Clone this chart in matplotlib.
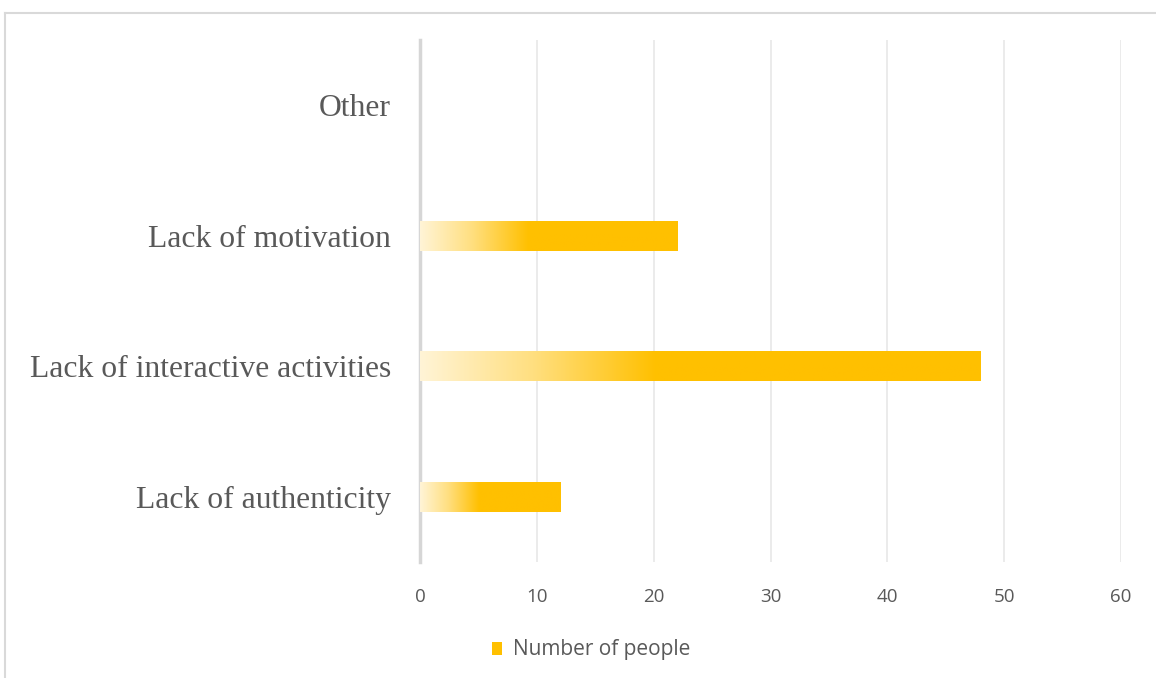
import numpy as np
import matplotlib.pyplot as plt
from matplotlib.colors import LinearSegmentedColormap
from matplotlib.patches import Rectangle

categories = ['Lack of authenticity', 'Lack of interactive activities',
              'Lack of motivation', 'Other']
values = [12, 48, 22, 0]
series_name = 'Number of people'
xticks = [0, 10, 20, 30, 40, 50, 60]

gold = '#FFC000'
cmap = LinearSegmentedColormap.from_list(
    'gold', [(0, '#FFF4D6'), (0.2, '#FFDF80'), (0.42, gold), (1, gold)])
grad = np.linspace(0, 1, 256).reshape(1, -1)

fig = plt.figure(figsize=(11.56, 6.78), dpi=100)
ax = fig.add_axes([420 / 1156, 1 - 562 / 678, 701 / 1156, 522 / 678])

y = np.arange(len(categories))
bars = ax.barh(y, values, height=0.23, color='none', edgecolor='none')
for b in bars:
    x0, y0 = b.get_x(), b.get_y()
    w, h = b.get_width(), b.get_height()
    if w <= 0:
        continue
    im = ax.imshow(grad, cmap=cmap, aspect='auto', extent=[x0, x0 + w, y0, y0 + h],
                   interpolation='bilinear', zorder=3)
    im.set_clip_path(b)

ax.set_xlim(0, 60)
ax.set_ylim(-0.5, len(categories) - 0.5)
ax.set_xticks(xticks)
ax.set_yticks(y)
ax.set_yticklabels(categories, fontfamily='Liberation Serif', fontsize=22.8, color='#595959')
ax.tick_params(axis='x', length=0, labelsize=13.5, labelcolor='#595959', pad=19)
ax.tick_params(axis='y', length=0, pad=21)
for lab in ax.get_xticklabels():
    lab.set_fontfamily('Open Sans')
ax.grid(axis='x', color='#E8E8E8', lw=1.2, zorder=0)
ax.set_axisbelow(True)
for s in ['top', 'right', 'bottom']:
    ax.spines[s].set_visible(False)
ax.spines['left'].set_color('#D6D6D6')
ax.spines['left'].set_linewidth(2.5)

leg_handle = Rectangle((0, 0), 1, 1, facecolor=gold, edgecolor='none')
leg = fig.legend([leg_handle], [series_name], loc='center', bbox_to_anchor=(591 / 1156, 1 - 650 / 678),
                 frameon=False, handlelength=0.5, handleheight=0.6, handletextpad=0.5,
                 prop={'family': 'Open Sans', 'size': 15})
for t in leg.get_texts():
    t.set_color('#595959')

# outer chart border
fig.add_artist(plt.Line2D([5 / 1156, 1], [1 - 13 / 678, 1 - 13 / 678], color='#D9D9D9', lw=1.5))
fig.add_artist(plt.Line2D([5 / 1156, 5 / 1156], [0, 1 - 13 / 678], color='#D9D9D9', lw=1.5))

fig.savefig('out.png', dpi=100)
